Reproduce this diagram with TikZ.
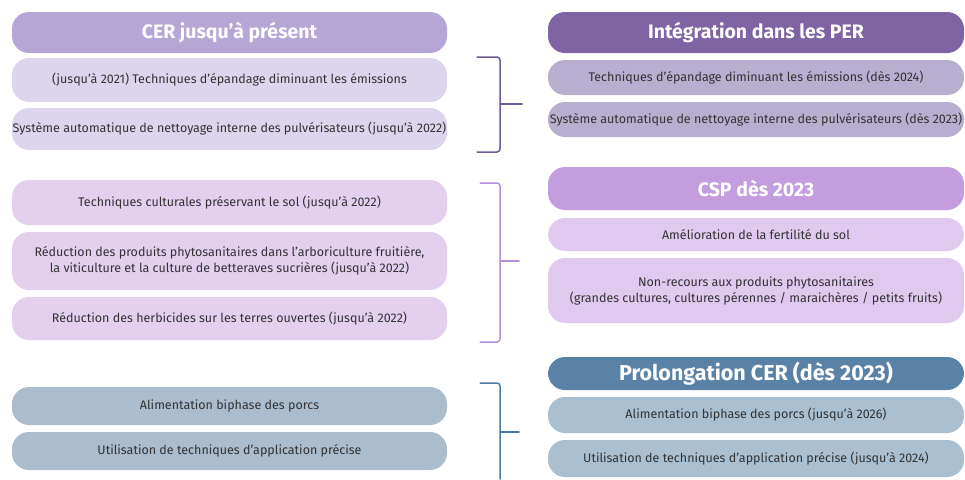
\documentclass[tikz,border=0pt]{standalone}
\usepackage{fontspec}
\setmainfont{Fira Sans}
\definecolor{txtgray}{HTML}{333333}
\definecolor{cerhd}{HTML}{B5A6D6}
\definecolor{cerbx}{HTML}{DCD5EC}
\definecolor{perhd}{HTML}{7E64A2}
\definecolor{perbx}{HTML}{B8AECF}
\definecolor{solbx}{HTML}{E2D0EE}
\definecolor{csphd}{HTML}{C49DDF}
\definecolor{cspbx}{HTML}{E0C9EE}
\definecolor{porbx}{HTML}{ABBCCD}
\definecolor{prohd}{HTML}{5A82A6}
\definecolor{probx}{HTML}{AABFD0}
\definecolor{braA}{HTML}{6F5A96}
\definecolor{braB}{HTML}{B58FD8}
\definecolor{braC}{HTML}{4F7AA0}
\begin{document}
\begin{tikzpicture}[x=1pt, y=-1pt, line join=round, line cap=round,
	box/.style={rounded corners=17pt, inner sep=0pt, align=center, text=txtgray, font=\fontsize{12.5}{16}\selectfont},
	head/.style={box, text=white, font=\fontsize{19.5}{22}\selectfont\bfseries},
	lbox/.style={minimum width=435pt},
	rbox/.style={minimum width=416pt},
	brace/.style={line width=1.5pt, rounded corners=3pt}]
	\useasboundingbox (0,0) rectangle (965,479);
	\def\xl{229.5} \def\xr{756} % centres des colonnes
	% colonne gauche
	\node[head, lbox, fill=cerhd, minimum height=41pt] (cerhead) at (\xl,32.5) {CER jusqu’à présent};
	\node[box, lbox, fill=cerbx, minimum height=44pt] (cerA) at (\xl,80) {(jusqu’à 2021) Techniques d’épandage diminuant les émissions};
	\node[box, lbox, fill=cerbx, minimum height=42pt] (cerB) at (\xl,129) {Système automatique de nettoyage interne des pulvérisateurs (jusqu’à 2022)};
	\node[box, lbox, fill=solbx, minimum height=45pt] (solA) at (\xl,202.5) {Techniques culturales préservant le sol (jusqu’à 2022)};
	\node[box, lbox, fill=solbx, minimum height=58pt] (solB) at (\xl,261) {Réduction des produits phytosanitaires dans l’arboriculture fruitière,\\la viticulture et la culture de betteraves sucrières (jusqu’à 2022)};
	\node[box, lbox, fill=solbx, minimum height=43pt] (solC) at (\xl,318.5) {Réduction des herbicides sur les terres ouvertes (jusqu’à 2022)};
	\node[box, lbox, fill=porbx, minimum height=38pt] (porA) at (\xl,406) {Alimentation biphase des porcs};
	\node[box, lbox, fill=porbx, minimum height=38pt] (porB) at (\xl,451) {Utilisation de techniques d’application précise};
	% colonne droite
	\node[head, rbox, fill=perhd, minimum height=41pt] (perhead) at (\xr,32.5) {Intégration dans les PER};
	\node[box, rbox, fill=perbx, minimum height=35pt] (perA) at (\xr,77.5) {Techniques d’épandage diminuant les émissions (dès 2024)};
	\node[box, rbox, fill=perbx, minimum height=35pt] (perB) at (\xr,119.5) {\makebox[416pt][c]{Système automatique de nettoyage interne des pulvérisateurs (dès 2023)}};
	\node[head, rbox, fill=csphd, minimum height=43pt] (csphead) at (\xr,188.5) {CSP dès 2023};
	\node[box, rbox, fill=cspbx, minimum height=33pt] (cspA) at (\xr,234.5) {Amélioration de la fertilité du sol};
	\node[box, rbox, fill=cspbx, minimum height=65pt] (cspB) at (\xr,290.5) {Non-recours aux produits phytosanitaires\\(grandes cultures, cultures pérennes / maraichères / petits fruits)};
	\node[head, rbox, fill=prohd, minimum height=33pt, font=\fontsize{21.5}{24}\selectfont\bfseries] (prohead) at (\xr,373.5) {Prolongation CER (dès 2023)};
	\node[box, rbox, fill=probx, minimum height=36pt] (proA) at (\xr,415) {Alimentation biphase des porcs (jusqu’à 2026)};
	\node[box, rbox, fill=probx, minimum height=37pt] (proB) at (\xr,458.5) {Utilisation de techniques d’application précise (jusqu’à 2024)};
	% accolades
	\draw[brace, braA] (477,57) -- (500,57) -- (500,152) -- (477,152);
	\draw[brace, braA] (500,104) -- (522,104);
	\draw[brace, braB] (480,183) -- (500,183) -- (500,342) -- (480,342);
	\draw[brace, braB] (500,261) -- (519,261);
	\draw[brace, braC] (480,383) -- (500,383) -- (500,479);
	\draw[brace, braC] (500,432) -- (519,432);
\end{tikzpicture}
\end{document}
